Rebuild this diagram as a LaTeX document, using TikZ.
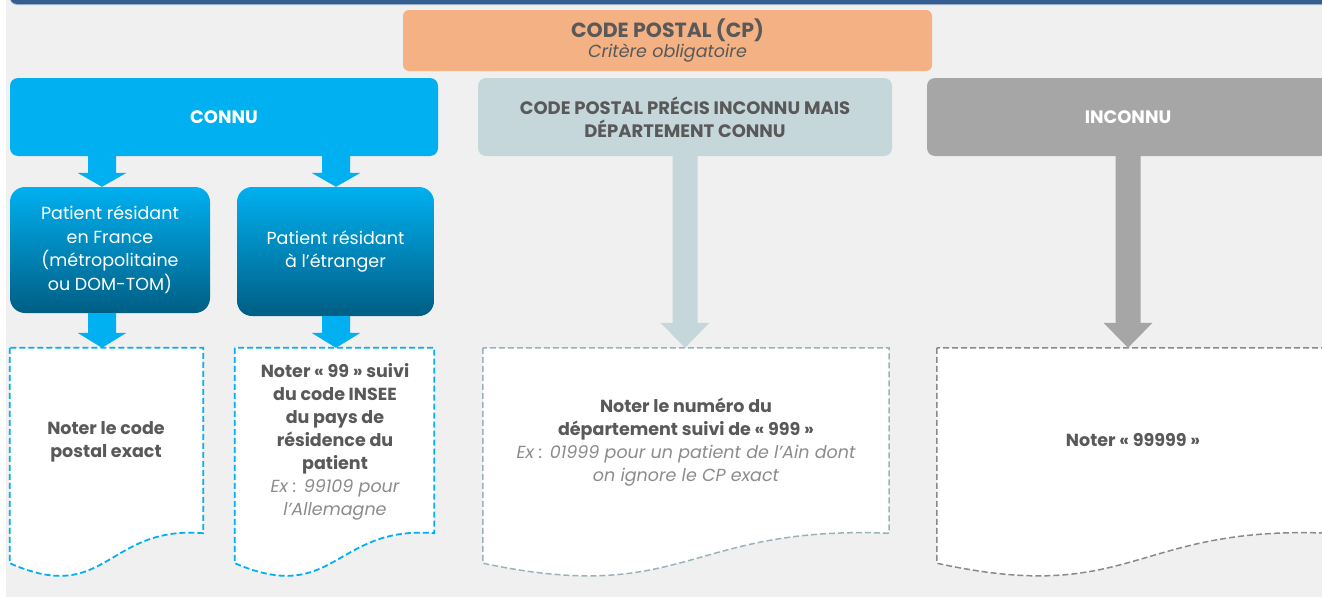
\documentclass[tikz,border=0pt]{standalone}
\usepackage{fontspec}
\setmainfont{Poppins}
\usetikzlibrary{calc}
\definecolor{bgc}{HTML}{F0F0F0}
\definecolor{barc}{HTML}{345E90}
\definecolor{barline}{HTML}{AAB9CD}
\definecolor{orangec}{HTML}{F4B183}
\definecolor{bluec}{HTML}{00B0F0}
\definecolor{bluemid}{HTML}{0096CE}
\definecolor{bluedark}{HTML}{005E84}
\definecolor{midc}{HTML}{C6D7DB}
\definecolor{middash}{HTML}{9BB3B8}
\definecolor{greyc}{HTML}{A6A6A6}
\definecolor{greydash}{HTML}{8A8A8A}
\definecolor{txtc}{HTML}{595959}
\definecolor{exc}{HTML}{8C8C8C}
\newcommand\exfont{\color{exc}\itshape\mdseries}
\newcommand\blockarrow[6]{% color, start, end, shaft half, head half, head length
  \fill[#1] ($(#2)+(-#4,0)$) -- ($(#2)+(#4,0)$) -- ($(#3)+(#4,-#6)$) -- ($(#3)+(#5,-#6)$)
    -- (#3) -- ($(#3)+(-#5,-#6)$) -- ($(#3)+(-#4,-#6)$) -- cycle;}
\newcommand\docoutline[2]{% node name, style
  \draw[#2] (#1.north west) -- (#1.south west)
    .. controls ($(#1.south west)!0.5!(#1.south east)+(0,43)$) and ($(#1.south west)!0.5!(#1.south east)+(0,-38)$) .. ($(#1.south east)+(0,-30)$)
    -- (#1.north east) -- cycle;}
\begin{document}
\begin{tikzpicture}[x=1pt,y=-1pt,
  headbox/.style={rectangle, rounded corners=8pt, inner sep=0pt, align=center},
  patbox/.style={rectangle, rounded corners=15pt, inner sep=0pt, align=center, text=white,
     top color=bluec, middle color=bluemid, bottom color=bluedark,
     font=\fontsize{17.5}{23.5}\selectfont},
  docbox/.style={rectangle, inner sep=0pt},
  doctext/.style={align=center, text=txtc, font=\bfseries\fontsize{17.5}{23}\selectfont},
  bluedash/.style={draw=bluec, fill=white, line width=1.8pt, dash pattern=on 6pt off 3pt},
  middashed/.style={draw=middash, fill=white, line width=1.5pt, dash pattern=on 6pt off 3pt},
  greydashed/.style={draw=greydash, fill=white, line width=1.5pt, dash pattern=on 6pt off 3pt}]
\useasboundingbox (0,0) rectangle (1322,597);
\clip (0,0) rectangle (1322,597);
\fill[white] (0,0) rectangle (1322,597);
\fill[bgc] (6,0) rectangle (1322,597);
\fill[barline] (10,-10) [rounded corners=7pt] -- (10,5) -- (1340,5) [sharp corners] -- (1340,-10) -- cycle;
\fill[barc] (10,-10) [rounded corners=7pt] -- (10,4) -- (1340,4) [sharp corners] -- (1340,-10) -- cycle;

% title
\node[headbox, rounded corners=6pt, fill=orangec, minimum width=529pt, minimum height=61pt] (cp) at (667.5,40.5) {};
\node[text=txtc, font=\bfseries\fontsize{20.5}{24}\selectfont] (cpt) at (667.5,30) {CODE POSTAL (CP)};
\node[text=txtc, font=\itshape\fontsize{17.5}{20}\selectfont] (cps) at (667.5,53) {Critère obligatoire};

% level 1
\node[headbox, fill=bluec, text=white, minimum width=428pt, minimum height=78pt,
  font=\bfseries\fontsize{18}{21}\selectfont] (connu) at (224,117) {CONNU};
\node[headbox, fill=midc, text=txtc, minimum width=414pt, minimum height=78pt,
  font=\bfseries\fontsize{18}{23}\selectfont] (mid) at (685,117) {CODE POSTAL PRÉCIS INCONNU MAIS\\DÉPARTEMENT CONNU};
\node[headbox, fill=greyc, text=white, minimum width=402pt, minimum height=78pt,
  font=\bfseries\fontsize{18}{21}\selectfont] (inc) at (1128,117) {INCONNU};

% level 2
\node[patbox, minimum width=200pt, minimum height=126pt] (p1) at (110,250)
  {Patient résidant\\en France\\(métropolitaine\\ou DOM-TOM)};
\node[patbox, minimum width=197pt, minimum height=129pt] (p2) at (335.5,251.5)
  {Patient résidant\\à l’étranger};

% document boxes (frames)
\node[docbox, minimum width=193pt, minimum height=215pt] (d1) at (106.5,455.5) {};
\node[docbox, minimum width=199pt, minimum height=215pt] (d2) at (334.5,455.5) {};
\node[docbox, minimum width=406pt, minimum height=215pt] (d3) at (686,455.5) {};
\node[docbox, minimum width=392pt, minimum height=215pt] (d4) at (1133,455.5) {};
\docoutline{d1}{bluedash}
\docoutline{d2}{bluedash}
\docoutline{d3}{middashed}
\docoutline{d4}{greydashed}

\node[doctext] (t1) at (106,441.5) {Noter le code\\postal exact};
\node[doctext] (t2) at (335,442) {Noter « 99 » suivi\\du code INSEE\\du pays de\\résidence du\\patient\\
  {\exfont Ex : 99109 pour}\\{\exfont l’Allemagne}};
\node[doctext] (t3) at (686,442) {Noter le numéro du\\département suivi de « 999 »\\
  {\exfont Ex : 01999 pour un patient de l’Ain dont}\\{\exfont on ignore le CP exact}};
\node[doctext] (t4) at (1133,440) {Noter « 99999 »};

% arrows
\coordinate (c1) at (102,0);
\coordinate (c2) at (336,0);
\coordinate (a1s) at (connu.south -| c1);
\coordinate (a1e) at (p1.north -| c1);
\coordinate (a2s) at (connu.south -| c2);
\coordinate (a2e) at (p2.north -| c2);
\coordinate (b1s) at (p1.south -| c1);
\coordinate (b1e) at (d1.north -| c1);
\coordinate (b2s) at (p2.south -| c2);
\coordinate (b2e) at (d2.north -| c2);
\coordinate (m1s) at (mid.south);
\coordinate (m1e) at (d3.north -| mid.south);
\coordinate (g1s) at (inc.south);
\coordinate (g1e) at (d4.north -| inc.south);
\blockarrow{bluec}{a1s}{a1e}{14}{24.5}{14}
\blockarrow{bluec}{a2s}{a2e}{14}{24.5}{14}
\blockarrow{bluec}{b1s}{b1e}{14}{24.5}{15}
\blockarrow{bluec}{b2s}{b2e}{14}{24.5}{15}
\blockarrow{midc}{m1s}{m1e}{12.5}{24.5}{25}
\blockarrow{greyc}{g1s}{g1e}{12.5}{24.5}{25}
\end{tikzpicture}
\end{document}
